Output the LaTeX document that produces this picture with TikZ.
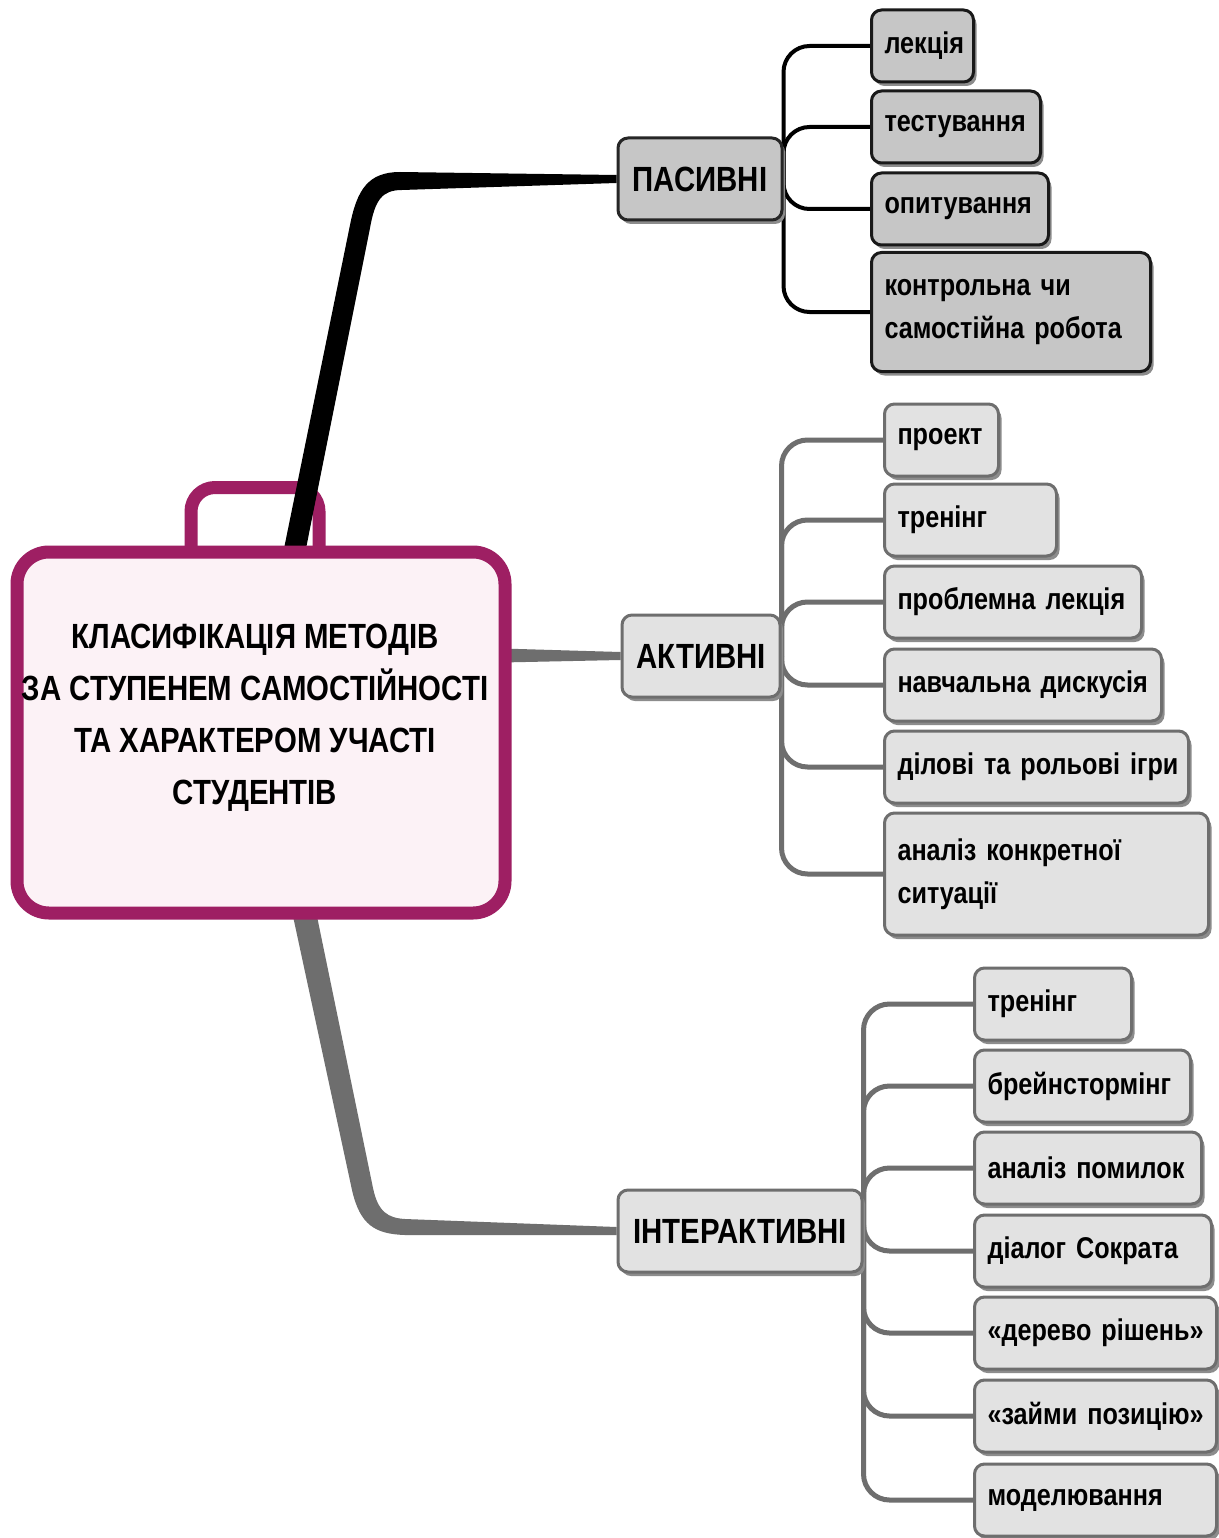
\documentclass[tikz,border=0pt]{standalone}
\usepackage{fontspec}
\setmainfont[FakeStretch=0.84]{Liberation Sans}
\usetikzlibrary{calc,shadows}
\definecolor{plum}{HTML}{9E1F63}
\definecolor{pinkbg}{HTML}{FCF2F6}
\definecolor{pgray}{HTML}{C6C6C6}
\definecolor{agray}{HTML}{E2E2E2}
\definecolor{lgray}{HTML}{6E6E6E}
\pgfdeclarelayer{paper}
\pgfdeclarelayer{back}
\pgfdeclarelayer{bg}
\pgfsetlayers{paper,back,bg,main}
\begin{document}
\begin{tikzpicture}[x=1pt,y=-1pt,
  box/.style={rounded corners=10pt, line width=3pt,
    font=\bfseries\fontsize{30}{43}\selectfont, inner xsep=13pt, inner ysep=4pt,
    align=left, anchor=west, minimum height=72pt,
    drop shadow={shadow xshift=3pt,shadow yshift=-4pt,fill=black!45,opacity=1}},
  pbox/.style={box, fill=pgray, draw=black!90},
  abox/.style={box, fill=agray, draw=lgray},
  cat/.style={rounded corners=10pt, line width=3pt,
    font=\bfseries\fontsize{35}{40}\selectfont, minimum height=82pt,
    drop shadow={shadow xshift=3pt,shadow yshift=-4pt,fill=black!45,opacity=1}},
  pbranch/.style={draw=black, line width=4pt, rounded corners=26pt},
  abranch/.style={draw=lgray, line width=5pt, rounded corners=26pt},
]
\useasboundingbox (0,0) rectangle (1218,1538);
\begin{pgfonlayer}{paper}
  \fill[white] (0,0) rectangle (1218,1538);
\end{pgfonlayer}

% central briefcase
\node[draw=plum, line width=13pt, fill=pinkbg, rounded corners=32pt,
      minimum width=488pt, minimum height=361pt] (root) at (261,732.5) {};
\node[font=\bfseries\fontsize{35}{52}\selectfont, align=center] (roottxt) at (255,718)
  {КЛАСИФІКАЦІЯ МЕТОДІВ\\ЗА СТУПЕНЕМ САМОСТІЙНОСТІ\\ТА ХАРАКТЕРОМ УЧАСТІ\\СТУДЕНТІВ};
\begin{pgfonlayer}{back}
  \draw[plum, line width=13pt, rounded corners=24pt]
    ($(root.north)+(-70,10)$) -- ($(root.north)+(-70,-58)$) -- ($(root.north)+(58,-58)$) -- ($(root.north)+(58,10)$);
\end{pgfonlayer}

% category nodes
\node[cat, fill=pgray, draw=black!85, minimum width=164pt] (pas) at (700,179) {ПАСИВНІ};
\node[cat, fill=agray, draw=lgray, minimum width=158pt] (akt) at (701,656) {АКТИВНІ};
\node[cat, fill=agray, draw=lgray, minimum width=244pt] (int) at (740,1231) {ІНТЕРАКТИВНІ};

% passive children
\node[pbox, text width=76pt] (p1) at (870,46) {\mbox{лекція}};
\node[pbox, text width=143pt] (p2) at (870,127) {\mbox{тестування}};
\node[pbox, text width=151pt] (p3) at (870,209) {\mbox{опитування}};
\node[pbox, text width=253pt, minimum height=119pt] (p4) at (870,312) {\mbox{контрольна чи}\\\mbox{самостійна робота}};

% active children
\node[abox, text width=88pt] (a1) at (883,440) {\mbox{проект}};
\node[abox, text width=146pt] (a2) at (883,520) {\mbox{тренінг}};
\node[abox, text width=231pt] (a3) at (883,602) {\mbox{проблемна лекція}};
\node[abox, text width=251pt] (a4) at (883,685) {\mbox{навчальна дискусія}};
\node[abox, text width=278pt] (a5) at (883,767) {\mbox{ділові та рольові ігри}};
\node[abox, text width=298pt, minimum height=122pt] (a6) at (883,874) {\mbox{аналіз конкретної}\\\mbox{ситуації}};

% interactive children
\node[abox, text width=131pt] (i1) at (973,1004) {\mbox{тренінг}};
\node[abox, text width=190pt] (i2) at (973,1086) {\mbox{брейнстормінг}};
\node[abox, text width=201pt] (i3) at (973,1168) {\mbox{аналіз помилок}};
\node[abox, text width=211pt] (i4) at (973,1251) {\mbox{діалог Сократа}};
\node[abox, text width=216pt] (i5) at (973,1333) {\mbox{«дерево рішень»}};
\node[abox, text width=216pt] (i6) at (973,1416) {\mbox{«займи позицію»}};
\node[abox, text width=216pt] (i7) at (973,1500) {\mbox{моделювання}};

\begin{pgfonlayer}{bg}
  % main connectors
  \fill[black] ($(root.north)+(22,8)$) -- (350,225)
     .. controls (357,190) and (368,172) .. (400,172)
     -- ($(pas.west)+(0,-4)$) -- ($(pas.west)+(0,4)$) -- (402,190)
     .. controls (382,190) and (375,200) .. (370,228)
     -- ($(root.north)+(44,8)$) -- cycle;
  \fill[lgray] ($(root.east)+(-10,-84)$) -- ($(akt.west)+(0,-4)$)
     -- ($(akt.west)+(0,4)$) -- ($(root.east)+(-10,-70)$) -- cycle;
  \fill[lgray] ($(root.south)+(31,-8)$) -- (352,1190)
     .. controls (360,1225) and (375,1234) .. (405,1235)
     -- ($(int.west)+(0,4)$) -- ($(int.west)+(0,-4)$) -- (405,1219)
     .. controls (388,1218) and (378,1212) .. (373,1188)
     -- ($(root.south)+(55,-8)$) -- cycle;
  % branches
  \foreach \c in {p1,p2,p3,p4} \draw[pbranch] (pas.east) |- (\c.west);
  \foreach \c in {a1,a2,a3,a4,a5,a6} \draw[abranch] (akt.east) |- (\c.west);
  \foreach \c in {i1,i2,i3,i4,i5,i6,i7} \draw[abranch] (int.east) |- (\c.west);
\end{pgfonlayer}
\end{tikzpicture}
\end{document}
